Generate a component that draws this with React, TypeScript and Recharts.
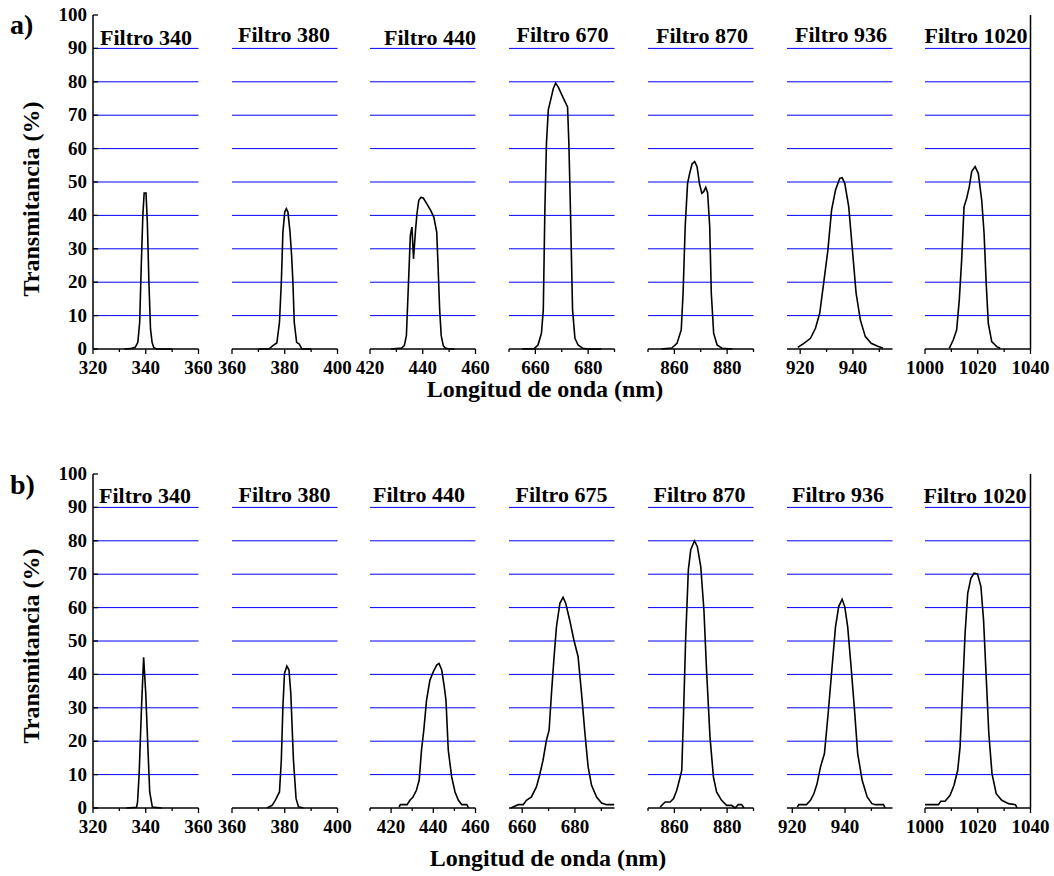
import React from 'react';
import { LineChart, Line, XAxis, YAxis, ReferenceLine } from 'recharts';

const FONT = '"Liberation Serif", "Times New Roman", serif';

// ---------- Row a) ----------
const a340X = [332, 334, 336, 337, 337.7, 338.3, 338.9, 339.4, 340.1, 340.6, 341.2, 341.8, 342.4, 343, 344, 350];
const a340Y = [0, 0.1, 0.5, 2, 8, 25, 40, 46.7, 46.7, 38, 20, 6, 2, 0.5, 0, 0];
const a380X = [370, 374, 375.5, 377, 378, 378.7, 379.3, 380, 380.6, 381.2, 382, 382.6, 383.1, 383.6, 384.5, 385.5, 386.5, 390];
const a380Y = [0, 0, 1, 1.8, 8, 20, 35, 41, 42, 41, 35, 28, 20, 8, 2, 1.5, 0, 0];
const a440X = [428, 432, 433, 433.8, 434.6, 435.3, 435.9, 436.5, 437.2, 437.8, 438.5, 439.3, 440.2, 441.5, 443, 444.2, 445.3, 445.8, 446.4, 447, 447.8, 448.5, 450, 452];
const a440Y = [0, 0.3, 1, 4, 20, 34, 36.5, 27, 35, 40.5, 44.5, 45.4, 45.2, 43.5, 41.5, 39.5, 35, 25, 12, 4, 1, 0.3, 0, 0];
const a670X = [655, 659.5, 661, 662.3, 663, 663.6, 664.2, 664.9, 665.8, 666.8, 667.7, 668.7, 670.6, 672.2, 672.7, 673.3, 674.1, 675, 676.2, 678, 680, 685];
const a670Y = [0, 0.1, 1.2, 4.7, 11.7, 41.6, 61.6, 71.6, 74.6, 78, 79.6, 78.4, 75.1, 72.5, 61.6, 41.6, 11.7, 3.2, 1.2, 0.2, 0, 0];
const a870X = [855, 859, 861, 862.6, 863.3, 864.1, 865, 865.8, 866.7, 867.7, 868.6, 869.5, 870.4, 871.1, 871.9, 872.6, 873.4, 874, 874.9, 876.2, 878.1, 882];
const a870Y = [0, 0.3, 1.7, 5.7, 16.7, 36.6, 49.6, 52.6, 55.4, 56.1, 54.6, 49.6, 46.6, 47.1, 48.4, 46.8, 36.6, 16.7, 4.7, 1.2, 0.2, 0];
const a936X = [919.1, 921.4, 923.9, 925.8, 927.4, 928.9, 930.5, 931.9, 933.4, 935, 935.9, 936.9, 938.4, 939.7, 941.2, 942.8, 944.7, 946.9, 949.2, 951.4];
const a936Y = [0.5, 1.7, 3.2, 6.2, 10.7, 19.7, 29.6, 41.6, 47.6, 51.1, 51.3, 49.6, 42.6, 30.6, 16.7, 8.7, 3.7, 1.7, 0.9, 0.2];
const a1020X = [1009.2, 1010.7, 1012, 1013, 1013.9, 1014.8, 1015.8, 1016.8, 1017.7, 1019, 1020.2, 1021.5, 1022.4, 1023.2, 1024, 1025.3, 1027.2, 1028.5];
const a1020Y = [0.2, 2.7, 5.7, 14.7, 26.6, 42.6, 45.1, 48.6, 53.1, 54.6, 52.6, 44.6, 34.6, 19.7, 7.7, 2.2, 0.7, 0.2];

// ---------- Row b) ----------
const b340X = [332.7, 336.5, 336.9, 337.5, 338.4, 339.2, 340, 340.8, 341.5, 342.5, 346];
const b340Y = [0, 0.2, 1.8, 10.3, 30.3, 45.1, 34.3, 18.3, 4.8, 0.3, 0];
const b380X = [373.3, 375.2, 376.4, 378, 378.7, 379.3, 379.9, 380.8, 381.6, 382.3, 383.3, 384.3, 385.2, 387.1];
const b380Y = [0, 0.8, 2.3, 4.8, 14.3, 30.3, 40.3, 42.5, 41.3, 34.3, 14.3, 2.8, 0.4, 0];
const b440X = [423.8, 424.4, 427.6, 428.9, 430.4, 432, 433.3, 434.4, 435.5, 436.8, 438.4, 440, 441.6, 442.7, 444, 445.2, 446, 447.1, 448.7, 450.3, 451.9, 453.5, 455.9, 456.7];
const b440Y = [0.3, 1, 1, 2.3, 3.3, 5.3, 8.3, 17.3, 23.3, 32.3, 38.3, 40.8, 42.8, 43.3, 41.3, 36.3, 32.3, 17.3, 9.3, 4.8, 2.3, 1, 1, 0];
const b675X = [655.7, 658.5, 660.4, 661.6, 663.5, 665.4, 666.6, 667.9, 669.2, 670.2, 671.1, 672, 673, 674.3, 675.5, 676.5, 678, 679.6, 681.2, 682.5, 683.8, 685, 686.3, 688.2, 690.1, 692, 694.9];
const b675Y = [0, 1, 1, 2.3, 3.3, 6.3, 9.8, 14.3, 20.3, 23.3, 34.3, 44.3, 54.3, 61.3, 63.1, 61.3, 56.3, 50.3, 45.3, 34.3, 22.3, 12.3, 6.8, 3.3, 1.5, 1, 1];
const b870X = [854.6, 856.5, 858.4, 859.7, 860.9, 862.2, 862.8, 863.4, 864.3, 865.3, 866.2, 867.6, 868.7, 870, 871.2, 872.2, 873.5, 874.8, 876, 877.9, 879.8, 881.7, 883, 884.2, 885.5, 886.4];
const b870Y = [0.3, 1.8, 1.8, 2.8, 5.3, 9.3, 11.3, 26.3, 51.3, 71.3, 77.3, 80, 78.3, 72.3, 59.3, 41.3, 21.3, 9.3, 4.8, 2.3, 0.8, 0.8, 0, 1, 1, 0];
const b936X = [921.9, 922.5, 925.4, 926.9, 928.2, 929.4, 930.7, 932.2, 933.6, 935.1, 936.4, 937.6, 938.9, 939.9, 941, 942.3, 943.6, 944.8, 946.5, 948.4, 950.2, 951.5, 954.6, 955.2];
const b936Y = [0.3, 1, 1, 2.3, 4.3, 7.3, 12.3, 16.3, 28.3, 42.3, 54.3, 60.3, 62.5, 60.3, 54.3, 42.3, 29.3, 16.3, 8.3, 3.3, 1.3, 1, 1, 0];
const b1020X = [1000, 1005.1, 1006, 1007.6, 1009.5, 1011, 1012.4, 1013.3, 1014.2, 1015.2, 1016.2, 1017.4, 1018.6, 1019.9, 1021.2, 1022.2, 1023.2, 1024.2, 1025.4, 1027, 1029.1, 1031.7, 1034.3, 1034.9];
const b1020Y = [1, 1, 2, 2, 3.8, 6.8, 11.3, 18.3, 34.3, 52.3, 64.3, 68.8, 70.3, 70.1, 66.3, 56.3, 39.3, 22.3, 10.3, 4.3, 2.3, 1.3, 1, 0];

// ---------- titles, domains, ticks ----------
const titlesA = ['Filtro 340', 'Filtro 380', 'Filtro 440', 'Filtro 670', 'Filtro 870', 'Filtro 936', 'Filtro 1020'];
const titlesB = ['Filtro 340', 'Filtro 380', 'Filtro 440', 'Filtro 675', 'Filtro 870', 'Filtro 936', 'Filtro 1020'];
const domainsA = [[320, 360], [360, 400], [420, 460], [650, 690], [850, 890], [915, 955], [1000, 1040]];
const domainsB = [[320, 360], [360, 400], [410, 460], [655, 695], [850, 890], [918, 958], [1000, 1040]];
const ticksA = [
  [320, 330, 340, 350, 360], [360, 370, 380, 390, 400], [420, 430, 440, 450, 460],
  [650, 660, 670, 680, 690], [850, 860, 870, 880, 890], [920, 930, 940, 950], [1000, 1010, 1020, 1030, 1040],
];
const ticksB = [
  [320, 330, 340, 350, 360], [360, 370, 380, 390, 400], [410, 420, 430, 440, 450, 460],
  [660, 670, 680, 690], [850, 860, 870, 880, 890], [920, 930, 940, 950], [1000, 1010, 1020, 1030, 1040],
];
const labelsA = [[320, 340, 360], [360, 380, 400], [420, 440, 460], [660, 680], [860, 880], [920, 940], [1000, 1020, 1040]];
const labelsB = [[320, 340, 360], [360, 380, 400], [420, 440, 460], [660, 680], [860, 880], [920, 940], [1000, 1020, 1040]];
const yTicks = [0, 10, 20, 30, 40, 50, 60, 70, 80, 90, 100];
const gridValues = [10, 20, 30, 40, 50, 60, 70, 80, 90];

const xsA = [a340X, a380X, a440X, a670X, a870X, a936X, a1020X];
const ysA = [a340Y, a380Y, a440Y, a670Y, a870Y, a936Y, a1020Y];
const xsB = [b340X, b380X, b440X, b675X, b870X, b936X, b1020X];
const ysB = [b340Y, b380Y, b440Y, b675Y, b870Y, b936Y, b1020Y];

// layout
const PANEL_LEFT = [93, 231.7, 370.4, 509.1, 647.8, 786.5, 925.2];
const PW = 105.5;
const PH = 334;
const ROW_TOP = [15, 474];
const titlePosA = [[146, 45], [284, 42], [430, 45], [562.5, 42], [702, 43], [841, 42], [976, 43]];
const titlePosB = [[145, 503], [284.5, 502], [419, 502], [561.5, 502], [699.5, 502], [838, 502], [975, 503]];

const TICK_FONT = 19;

const BottomTick = (props: any) => {
  const { x, y, payload, labels } = props;
  const major = labels.includes(payload.value);
  return (
    <g>
      <line x1={x} x2={x} y1={y} y2={y + (major ? 5 : 3)} stroke="#000" strokeWidth={1.3} />
      {major && (
        <text x={x} y={y + 25} textAnchor="middle" fontFamily={FONT} fontWeight="bold" fontSize={TICK_FONT} fill="#000">
          {payload.value}
        </text>
      )}
    </g>
  );
};

const TopTick = (props: any) => {
  const { x, y } = props;
  return <line x1={x} x2={x} y1={y} y2={y + 4} stroke="#000" strokeWidth={1.3} />;
};

const LeftTick = (props: any) => {
  const { x, y, payload } = props;
  return (
    <g>
      <line x1={x} x2={x + 5} y1={y} y2={y} stroke="#000" strokeWidth={1.3} />
      <text x={x - 6} y={y + 6} textAnchor="end" fontFamily={FONT} fontWeight="bold" fontSize={TICK_FONT} fill="#000">
        {payload.value}
      </text>
    </g>
  );
};

const RightTick = (props: any) => {
  const { x, y } = props;
  return <line x1={x} x2={x - 5} y1={y} y2={y} stroke="#000" strokeWidth={1.3} />;
};

const axisLine = { stroke: '#000', strokeWidth: 1.5 };

function Panel(props: { idx: number; row: number; xs: number[]; ys: number[]; domain: number[]; ticks: number[]; labels: number[] }) {
  const { idx, row, xs, ys, domain, ticks, labels } = props;
  const data = xs.map((x, i) => ({ x, y: ys[i] }));
  const yW = idx === 0 ? 60 : 0;
  const rW = idx === 6 ? 10 : 0;
  const W = 20 + yW + PW + rW + 20;
  const H = 10 + PH + 40;
  const left = PANEL_LEFT[idx] - 20 - yW;
  const top = ROW_TOP[row] - 10;
  return (
    <div style={{ position: 'absolute', left, top }}>
      <LineChart width={W} height={H} data={data} margin={{ top: 10, right: 20, bottom: 0, left: 20 }}>
        <XAxis
          xAxisId="b"
          dataKey="x"
          type="number"
          domain={domain}
          ticks={ticks}
          interval={0}
          allowDataOverflow
          height={40}
          tickSize={0}
          tickMargin={0}
          tickLine={false}
          axisLine={axisLine}
          tick={<BottomTick labels={labels} />}
        />
        <XAxis
          xAxisId="t"
          orientation="top"
          dataKey="x"
          type="number"
          domain={domain}
          ticks={ticks}
          interval={0}
          allowDataOverflow
          height={0}
          tickSize={0}
          tickMargin={0}
          tickLine={false}
          axisLine={axisLine}
          tick={<TopTick />}
        />
        <YAxis
          yAxisId="y"
          type="number"
          domain={[0, 100]}
          ticks={yTicks}
          interval={0}
          hide={idx !== 0}
          width={60}
          tickSize={0}
          tickMargin={0}
          tickLine={false}
          axisLine={axisLine}
          tick={<LeftTick />}
        />
        {idx === 6 && (
          <YAxis
            yAxisId="r"
            orientation="right"
            type="number"
            domain={[0, 100]}
            ticks={yTicks}
            interval={0}
            width={10}
            tickSize={0}
            tickMargin={0}
            tickLine={false}
            axisLine={axisLine}
            tick={<RightTick />}
          />
        )}
        {gridValues.map((v) => (
          <ReferenceLine key={v} xAxisId="b" yAxisId="y" y={v} stroke="#0000ff" strokeWidth={1} />
        ))}
        <Line
          xAxisId="b"
          yAxisId="y"
          dataKey="y"
          type="linear"
          stroke="#000"
          strokeWidth={1.6}
          dot={false}
          activeDot={false}
          isAnimationActive={false}
        />
      </LineChart>
    </div>
  );
}

export default function App() {
  return (
    <div style={{ position: 'absolute', left: 0, top: 0, width: 1054, height: 876, background: '#fff', overflow: 'hidden' }}>
      {xsA.map((xs, i) => (
        <Panel key={'a' + i} idx={i} row={0} xs={xs} ys={ysA[i]} domain={domainsA[i]} ticks={ticksA[i]} labels={labelsA[i]} />
      ))}
      {xsB.map((xs, i) => (
        <Panel key={'b' + i} idx={i} row={1} xs={xs} ys={ysB[i]} domain={domainsB[i]} ticks={ticksB[i]} labels={labelsB[i]} />
      ))}
      <svg width={1054} height={876} style={{ position: 'absolute', left: 0, top: 0, pointerEvents: 'none' }}>
        <g fontFamily={FONT} fontWeight="bold" fill="#000">
          <text x={10} y={34} fontSize={28}>a)</text>
          <text x={10} y={494} fontSize={28}>b)</text>
          {titlesA.map((t, i) => (
            <text key={'ta' + i} x={titlePosA[i][0]} y={titlePosA[i][1]} fontSize={22} textAnchor="middle">{t}</text>
          ))}
          {titlesB.map((t, i) => (
            <text key={'tb' + i} x={titlePosB[i][0]} y={titlePosB[i][1]} fontSize={22} textAnchor="middle">{t}</text>
          ))}
          <text x={545} y={397} fontSize={24} textAnchor="middle">Longitud de onda (nm)</text>
          <text x={548} y={866} fontSize={24} textAnchor="middle">Longitud de onda (nm)</text>
          <text transform="translate(38.5,199) rotate(-90)" fontSize={24} textAnchor="middle">Transmitancia (%)</text>
          <text transform="translate(38.5,646) rotate(-90)" fontSize={24} textAnchor="middle">Transmitancia (%)</text>
        </g>
      </svg>
    </div>
  );
}
